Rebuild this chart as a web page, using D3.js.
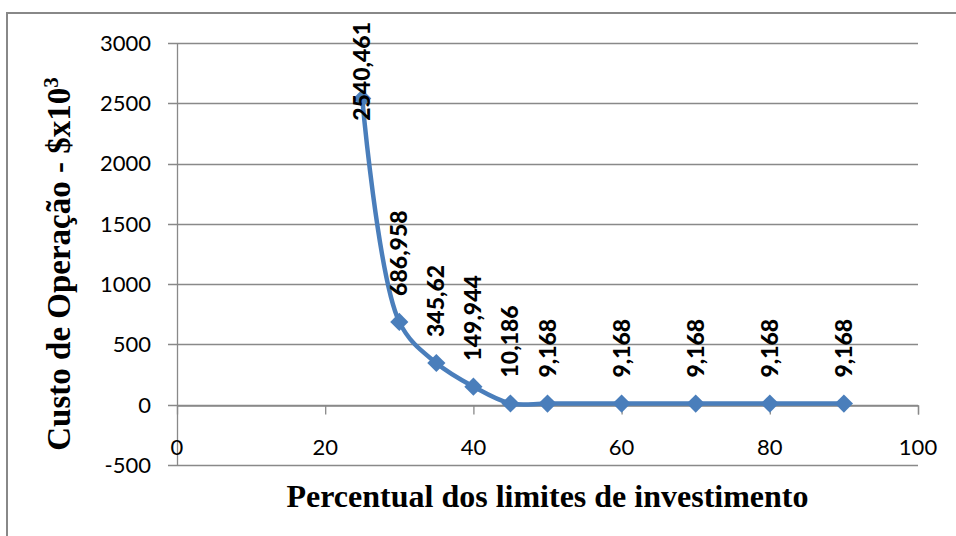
<!DOCTYPE html>
<html>
<head>
<meta charset="utf-8">
<script src="https://cdn.jsdelivr.net/npm/d3@7"></script>
<style>
  html, body { margin: 0; padding: 0; background: #fff; }
  svg { display: block; }
</style>
</head>
<body>
<svg id="chart" width="956" height="536"></svg>
<script>
// Operating cost versus investment-limit percentage
const percentuais = [25, 30, 35, 40, 45, 50, 60, 70, 80, 90];
const custos = [2540.461, 686.958, 345.62, 149.944, 10.186, 9.168, 9.168, 9.168, 9.168, 9.168];
const rotulos = ["2540,461", "686,958", "345,62", "149,944", "10,186", "9,168", "9,168", "9,168", "9,168", "9,168"];
const xTicks = [0, 20, 40, 60, 80, 100];
const yTicks = [-500, 0, 500, 1000, 1500, 2000, 2500, 3000];
const xTitulo = "Percentual dos limites de investimento";
const yTitulo = "Custo de Operação - $x10";

const svg = d3.select("#chart");
const W = 956, H = 536;
const plot = { left: 177, right: 918, top: 43, bottom: 465 };

const x = d3.scaleLinear().domain([0, 100]).range([plot.left, plot.right]);
const y = d3.scaleLinear().domain([-500, 3000]).range([plot.bottom, plot.top]);

const gridColor = "#898989";
const seriesColor = "#4a7ebb";
const tickFont = "Lato, 'Open Sans', sans-serif";

// outer chart frame (runs past the right and bottom edges)
svg.append("rect")
  .attr("x", 7).attr("y", 13)
  .attr("width", W + 10).attr("height", H + 10)
  .attr("fill", "#fff")
  .attr("stroke", "#888").attr("stroke-width", 2);

// horizontal gridlines, extended left past the axis as tick marks
svg.append("g")
  .selectAll("line")
  .data(yTicks)
  .join("line")
  .attr("x1", plot.left - 9).attr("x2", plot.right)
  .attr("y1", d => Math.round(y(d)) + 0.5).attr("y2", d => Math.round(y(d)) + 0.5)
  .attr("stroke", gridColor).attr("stroke-width", 1.3);

// vertical axis line
svg.append("line")
  .attr("x1", x(0) + 0.5).attr("x2", x(0) + 0.5)
  .attr("y1", plot.top).attr("y2", plot.bottom)
  .attr("stroke", gridColor).attr("stroke-width", 1.3);

// horizontal axis at zero with downward ticks
const xAxis = d3.axisBottom(x).tickValues(xTicks).tickSize(9).tickFormat("");
const gx = svg.append("g")
  .attr("transform", `translate(0,${Math.round(y(0)) + 0.5})`)
  .call(xAxis);
gx.select(".domain").attr("stroke", gridColor).attr("stroke-width", 1.3);
gx.selectAll(".tick line").attr("stroke", gridColor).attr("stroke-width", 1.3);
gx.selectAll(".tick").filter(d => d === 0).remove();

// x tick labels, placed between the zero line and the bottom line
svg.append("g")
  .selectAll("text")
  .data(xTicks)
  .join("text")
  .attr("x", d => x(d))
  .attr("y", 455)
  .attr("text-anchor", "middle")
  .attr("font-family", tickFont)
  .attr("font-size", 22)
  .attr("fill", "#000")
  .text(d => d);

// y tick labels
svg.append("g")
  .selectAll("text")
  .data(yTicks)
  .join("text")
  .attr("x", 151)
  .attr("y", d => y(d))
  .attr("dy", "0.36em")
  .attr("text-anchor", "end")
  .attr("font-family", tickFont)
  .attr("font-size", 22)
  .attr("fill", "#000")
  .text(d => d);

// smoothed series line
const pontos = percentuais.map((p, i) => [p, custos[i]]);
const linha = d3.line()
  .x(d => x(d[0]))
  .y(d => y(d[1]))
  .curve(d3.curveCatmullRom.alpha(0.5));
svg.append("path")
  .datum(pontos)
  .attr("d", linha)
  .attr("fill", "none")
  .attr("stroke", seriesColor)
  .attr("stroke-width", 4.5)
  .attr("stroke-linejoin", "round");

// diamond markers
const diamante = d3.symbol().type(d3.symbolSquare).size(165);
svg.append("g")
  .selectAll("path")
  .data(pontos)
  .join("path")
  .attr("d", diamante)
  .attr("transform", d => `translate(${x(d[0])},${y(d[1])}) rotate(45)`)
  .attr("fill", seriesColor);

// rotated value labels above each point, kept inside the chart frame
const labelTop = 22;
const gLabels = svg.append("g");
pontos.forEach((d, i) => {
  const t = gLabels.append("text")
    .attr("font-family", tickFont)
    .attr("font-weight", 900)
    .attr("font-size", 23)
    .attr("fill", "#000")
    .attr("text-anchor", "start")
    .text(rotulos[i]);
  const len = t.node().getComputedTextLength();
  let y0 = y(d[1]) - 26;
  if (y0 - len < labelTop) y0 = labelTop + len;
  const x0 = x(d[0]) + 8;
  t.attr("transform", `translate(${x0},${y0}) rotate(-90)`);
});

// axis titles
svg.append("text")
  .attr("x", (plot.left + plot.right) / 2)
  .attr("y", 507)
  .attr("text-anchor", "middle")
  .attr("font-family", "'Liberation Serif', 'Times New Roman', serif")
  .attr("font-weight", "bold")
  .attr("font-size", 32)
  .attr("fill", "#000")
  .text(xTitulo);

const yt = svg.append("text")
  .attr("transform", `translate(70,264) rotate(-90)`)
  .attr("text-anchor", "middle")
  .attr("font-family", "'Liberation Serif', 'Times New Roman', serif")
  .attr("font-weight", "bold")
  .attr("font-size", 33)
  .attr("fill", "#000");
yt.append("tspan").text(yTitulo);
yt.append("tspan").attr("font-size", 21).attr("dy", "-0.55em").text("3");
</script>
</body>
</html>
